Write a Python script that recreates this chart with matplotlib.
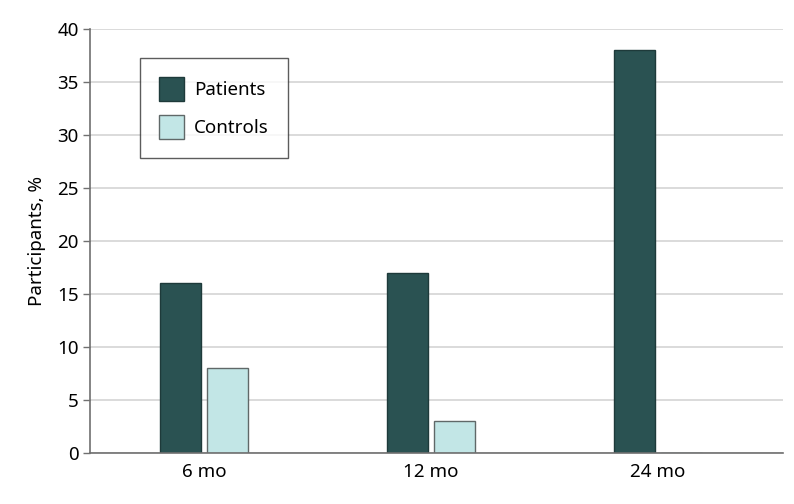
import matplotlib
matplotlib.use("Agg")
import matplotlib.pyplot as plt
import numpy as np

plt.rcParams['font.family'] = ['Noto Sans', 'DejaVu Sans']

categories = ["6 mo", "12 mo", "24 mo"]
patients = [16, 17, 38]
controls = [8, 3, 0]
yticks = [0, 5, 10, 15, 20, 25, 30, 35, 40]

dark = "#2a5252"
light = "#c2e6e6"

fig = plt.figure(figsize=(7.94, 5.04), dpi=100)
ax = fig.add_axes([0.1134, 0.1012, 0.8726, 0.8413])

x = np.arange(len(categories))
w = 0.18
off = 0.104
ax.bar(x - off, patients, width=w, color=dark, edgecolor="#1e3a3a", linewidth=1, label="Patients", zorder=3)
ax.bar(x + off, controls, width=w, color=light, edgecolor="#606868", linewidth=1, label="Controls", zorder=3)

fs = 13.5
ax.set_xlim(-0.502, 2.55)
ax.set_ylim(0, 40)
ax.set_yticks(yticks)
ax.set_xticks(x)
ax.set_xticklabels(categories)
ax.tick_params(axis='x', length=0, labelsize=fs, pad=7)
ax.tick_params(axis='y', length=5, width=1, color="#707070", labelsize=fs, pad=3)
ax.yaxis.grid(True, color="#d4d4d4", linewidth=1.2, zorder=0)
ax.set_axisbelow(True)
for s in ['top', 'right']:
    ax.spines[s].set_visible(False)
for s in ['left', 'bottom']:
    ax.spines[s].set_color("#707070")
    ax.spines[s].set_linewidth(1.2)
    ax.spines[s].set_zorder(4)
ax.set_ylabel("Participants, %", fontsize=fs, labelpad=8)

leg = ax.legend(loc='upper left', bbox_to_anchor=(0.072, 0.932), borderaxespad=0,
                fontsize=fs, frameon=True, fancybox=False, edgecolor="#333333",
                handlelength=1.35, handleheight=1.6, handletextpad=0.55,
                labelspacing=0.75, borderpad=1.0)
leg.get_frame().set_linewidth(1)

fig.savefig("out.png", dpi=100)
